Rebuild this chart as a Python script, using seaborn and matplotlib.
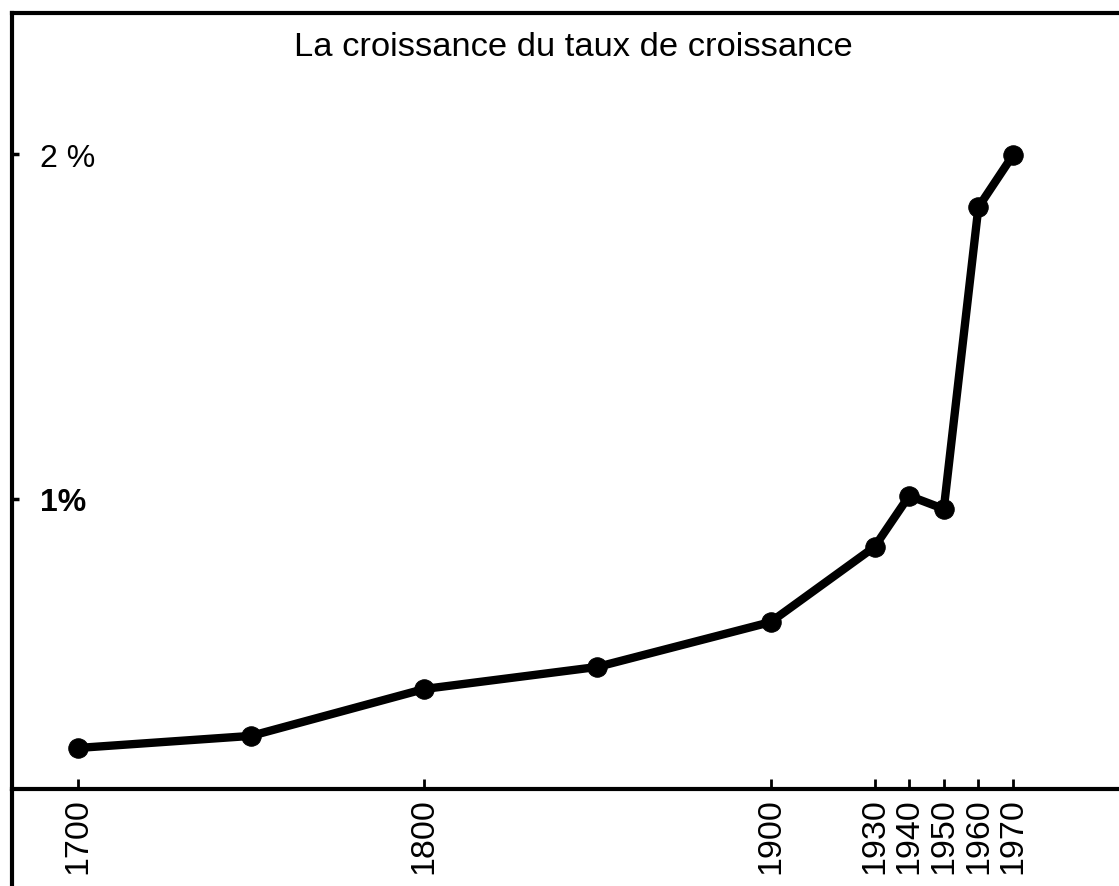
import matplotlib
matplotlib.use("Agg")
import matplotlib.pyplot as plt
from matplotlib.lines import Line2D
import seaborn as sns
import pandas as pd

years = [1700, 1750, 1800, 1850, 1900, 1930, 1940, 1950, 1960, 1970]
rates = [0.278, 0.313, 0.449, 0.513, 0.643, 0.861, 1.009, 0.971, 1.846, 1.997]
xtick_years = [1700, 1800, 1900, 1930, 1940, 1950, 1960, 1970]
ytick_values = [1, 2]
ytick_labels = ["1%", "2 %"]
title = "La croissance du taux de croissance"

sns.set_theme(style="white")
plt.rcParams['font.family'] = ['Liberation Sans', 'DejaVu Sans']
plt.rcParams['text.color'] = 'black'
plt.rcParams['xtick.color'] = 'black'
plt.rcParams['ytick.color'] = 'black'
plt.rcParams['axes.labelcolor'] = 'black'

df = pd.DataFrame({"year": years, "rate": rates})

W, H = 1119, 887
fig = plt.figure(figsize=(W / 100, H / 100), dpi=100)
left_px, right_px, top_px, bottom_px = 12, 1119, 14, 790
ax = fig.add_axes([left_px / W, 1 - bottom_px / H, (right_px - left_px) / W, (bottom_px - top_px) / H])

sns.lineplot(data=df, x="year", y="rate", ax=ax, color="black", linewidth=6,
             marker="o", markersize=14, markeredgecolor="black", markerfacecolor="black")

ax.set_xlim(1680.94, 2000.6)
ax.set_ylim(0.159, 2.409)

ax.set_xlabel("")
ax.set_ylabel("")

ax.set_xticks(xtick_years)
ax.set_xticklabels([str(y) for y in xtick_years], rotation=90, fontsize=24.5, color="black")
ax.set_yticks(ytick_values)
ax.set_yticklabels(ytick_labels, fontsize=23, color="black")
for lab in ax.get_yticklabels():
    lab.set_horizontalalignment("left")
    if lab.get_text() == "1%":
        lab.set_fontweight("bold")

ax.tick_params(axis="x", direction="in", length=7, width=2, pad=6, color="black", bottom=True)
ax.tick_params(axis="y", direction="in", length=5, width=2.5, pad=-20, color="black", left=True)

for side in ["left", "top", "bottom"]:
    ax.spines[side].set_visible(True)
    ax.spines[side].set_color("black")
    ax.spines[side].set_linewidth(3)
ax.spines["right"].set_visible(False)

# frame line continues below the axis
fig.add_artist(Line2D([left_px / W, left_px / W], [0, 1 - bottom_px / H],
                      transform=fig.transFigure, color="black", linewidth=3))

ax.set_title(title, x=0.507, y=0.957, va="center", fontsize=24.8, pad=0, color="black")

fig.savefig("out.png", dpi=100, facecolor="white")
